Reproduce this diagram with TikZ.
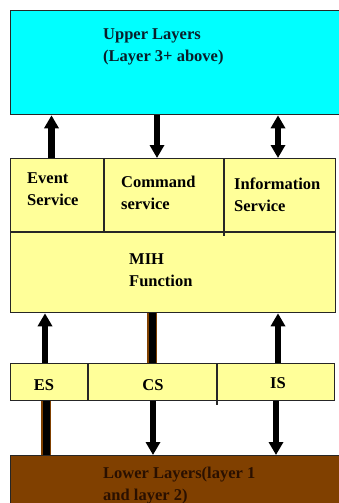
\documentclass[tikz,border=0pt]{standalone}
\usepackage{fontspec}
\setmainfont{Liberation Serif}
\usetikzlibrary{arrows.meta}
\definecolor{upcyan}{HTML}{00FFFF}
\definecolor{mihyellow}{HTML}{FFFF99}
\definecolor{lowbrown}{HTML}{804000}
\definecolor{uptext}{HTML}{0A1E2A}
\definecolor{lowtext}{HTML}{2A1000}
\tikzset{
  box/.style={draw=black!85, line width=1.3pt, inner sep=0pt, anchor=north west},
  lbl/.style={anchor=base west, inner sep=0pt, align=left, font=\fontsize{16.5}{22}\selectfont\bfseries},
  arr/.style={line width=6.5pt, -{Triangle[length=13pt,width=14pt]}},
  dblarr/.style={line width=6.5pt, {Triangle[length=13pt,width=14pt]}-{Triangle[length=13pt,width=14pt]}},
  bar/.style={draw=lowbrown, line width=1.6pt, double=black, double distance=7pt}
}
\begin{document}
\begin{tikzpicture}[x=1pt, y=-1pt]
  \useasboundingbox (0,0) rectangle (339,503);
  % boxes
  \node[box, fill=upcyan, minimum width=340, minimum height=104] (upper) at (10,10) {};
  \node[box, fill=mihyellow, minimum width=325, minimum height=154] (mih) at (10,158) {};
  \node[box, fill=mihyellow, minimum width=324, minimum height=37] (srow) at (10,363) {};
  \node[box, fill=lowbrown, minimum width=340, minimum height=60] (lower) at (10,455) {};
  % cell dividers
  \draw[black!85, line width=1.1pt] (10,232) -- (335,232);
  \draw[black!85, line width=1.1pt] (104,158) -- (104,232);
  \draw[black!85, line width=1.1pt] (224,158) -- (224,236);
  \draw[black!85, line width=1.1pt] (88,363) -- (88,400);
  \draw[black!85, line width=1.1pt] (217,363) -- (217,405);
  % texts (base = last line)
  \node[lbl, text=uptext] (uptxt) at (103,62) {Upper Layers\\(Layer 3+ above)};
  \node[lbl] (evt) at (27,205) {Event\\Service};
  \node[lbl] (cmd) at (121,209) {Command\\service};
  \node[lbl] (info) at (234,211) {Information\\Service};
  \node[lbl] (fn) at (129,286) {MIH\\Function};
  \node[lbl, anchor=base] (es) at (44,390) {ES};
  \node[lbl, anchor=base] (cs) at (153,390) {CS};
  \node[lbl, anchor=base] (is) at (278,388) {IS};
  \node[lbl, text=lowtext] (lowtxt) at (103,500) {Lower Layers(layer 1\\and layer 2)};
  % arrow columns
  \coordinate (c1) at (51.5,0);
  \coordinate (c2) at (157,0);
  \coordinate (c3) at (278,0);
  \coordinate (c4) at (45,0);
  \coordinate (c5) at (152,0);
  \coordinate (c6) at (46,0);
  \coordinate (c7) at (153,0);
  \coordinate (c8) at (276,0);
  % connectors
  \draw[arr] (mih.north -| c1) -- (upper.south -| c1);
  \draw[arr] (upper.south -| c2) -- (mih.north -| c2);
  \draw[dblarr] (upper.south -| c3) -- (mih.north -| c3);
  \draw[arr] (srow.north -| c4) -- (mih.south -| c4);
  \draw[bar] (mih.south -| c5) -- (srow.north -| c5);
  \draw[arr] (srow.north -| c3) -- (mih.south -| c3);
  \draw[bar] (srow.south -| c6) -- (lower.north -| c6);
  \draw[arr] (srow.south -| c7) -- (lower.north -| c7);
  \draw[arr] (srow.south -| c8) -- (lower.north -| c8);
\end{tikzpicture}
\end{document}
